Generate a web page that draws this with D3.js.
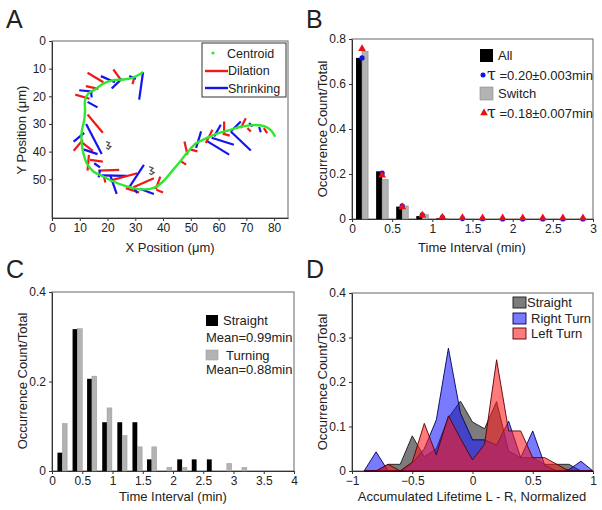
<!DOCTYPE html>
<html><head><meta charset="utf-8">
<script src="https://cdn.jsdelivr.net/npm/d3@7"></script>
<style>
body{margin:0;background:#fff}
svg{display:block}
text{font-family:"Liberation Sans",Arial,Helvetica,sans-serif;fill:#222}
</style>
</head><body>
<svg id="fig" width="602" height="510"></svg>
<script>
// ---------------- Panel A data ----------------
const centroidPath = [
  [32.8,11.2],[29.3,13.2],[25.7,13.9],[22.1,14.2],[18.5,15.4],[15.5,17.5],[13.1,19.0],[11.9,21.4],
  [11.9,25.0],[11.6,28.6],[10.7,32.8],[10.7,37.0],[11.3,40.6],[12.5,44.2],[14.9,47.2],[18.5,49.0],
  [22.1,50.8],[26.9,52.6],[31.6,53.6],[36.4,53.2],[40.0,50.8],[43.6,46.6],[46.6,43.0],[49.0,40.0],
  [51.9,37.0],[55.5,35.2],[59.7,33.4],[63.9,32.2],[68.1,31.0],[72.2,30.4],[76.4,30.8],[78.8,32.2],[80.4,34.6]
];
const segX1 = [32.8,27.8,29.5,22.1,21.5,12.8,17.6,12.2,9.8,14.0,8.4,12.8,12.8,12.3,7.8,7.8,10.4,11.3,13.3,13.7,15.2,16.7,16.8,17.9,19.2,20.9,20.9,27.8,26.6,29.3,30.7,31.6,37.4,37.6,46.5,47.7,50.0,53.7,57.8,56.0,58.4,57.5,62.0,61.5,64.4,64.4,69.8,70.4,71.0,74.6,76.3];
const segY1 = [11.2,12.7,13.7,10.3,17.2,11.5,12.7,16.3,17.8,18.0,19.4,22.0,26.6,30.0,36.4,39.7,36.4,39.2,41.2,43.0,44.2,46.9,49.3,48.6,51.2,50.5,48.4,52.9,53.2,52.9,55.0,53.4,53.6,53.8,43.5,36.3,39.3,32.7,32.1,36.3,34.5,35.0,29.1,33.5,32.7,32.7,27.9,31.5,29.7,31.1,31.5];
const segX2 = [31.4,30.2,29.0,24.7,25.1,18.5,22.7,16.7,14.7,14.3,13.5,16.4,18.3,17.9,11.6,11.1,14.7,16.4,12.8,18.3,17.3,24.2,17.3,26.9,18.7,30.7,23.3,33.1,31.4,36.7,29.5,36.7,39.0,40.0,48.3,48.8,52.4,51.9,55.4,63.8,60.8,65.5,62.0,64.0,71.6,68.0,68.0,71.6,72.2,75.2,77.5];
const segY2 = [21.2,13.7,15.6,13.9,13.7,14.9,14.9,17.3,18.3,20.4,20.9,24.0,33.2,40.9,33.2,35.8,39.7,40.9,46.9,43.6,45.7,46.6,46.6,48.8,48.8,47.8,55.3,44.8,54.8,49.6,52.9,55.3,49.0,54.8,44.7,41.1,39.9,38.7,36.9,41.1,30.3,37.5,33.3,34.2,39.6,29.1,31.5,32.7,30.9,33.0,33.3];
const segKind = ["S","S","D","D","S","D","S","D","S","S","D","S","D","S","S","D","D","S","D","D","S","D","S","S","D","D","S","S","D","D","S","S","D","D","D","D","D","S","D","S","S","S","D","D","S","S","D","D","S","S","D"];
const squiggle1 = [[19.5,36.4],[20.7,36.8],[20.0,37.8],[21.2,38.2],[20.3,39.1],[19.5,38.6]];
const squiggle2 = [[35.0,45.4],[36.4,46.0],[35.5,46.9],[36.8,47.6],[35.8,48.3],[35.0,47.8]];
const aXTicks = [0,10,20,30,40,50,60,70,80];
const aYTicks = [0,10,20,30,40,50];
const aLegend = ["Centroid","Dilation","Shrinking"];

// ---------------- Panel B data ----------------
const bBins   = [0.125,0.375,0.625,0.875,1.125,1.375,1.625,1.875,2.125,2.375,2.625,2.875];
const bAll    = [0.716,0.212,0.055,0.013,0.003,0,0,0,0,0,0,0];
const bSwitch = [0.745,0.175,0.058,0.019,0.002,0,0,0,0,0,0,0];
const bFitAll = [0.716,0.204,0.059,0.019,0.007,0.002,0.001,0,0,0,0,0];
const bFitSw  = [0.752,0.190,0.049,0.012,0.004,0.001,0,0,0,0,0,0];
const bXTicks = [0,0.5,1,1.5,2,2.5,3];
const bYTicks = [0,0.2,0.4,0.6,0.8];
const bLegend = ["All","=0.20\u00b10.003min","Switch","=0.18\u00b10.007min"];

// ---------------- Panel C data ----------------
const cBins     = [0.17,0.42,0.66,0.91,1.16,1.41,1.65,1.90,2.15,2.39,2.64,2.89,3.14];
const cStraight = [0.041,0.317,0.206,0.109,0.109,0.109,0.026,0,0.026,0.026,0.026,0,0];
const cTurning  = [0.106,0.318,0.212,0.141,0.079,0.054,0.054,0.008,0.008,0,0,0.017,0.008];
const cXTicks = [0,0.5,1,1.5,2,2.5,3,3.5,4];
const cYTicks = [0,0.2,0.4];
const cLegend = ["Straight","Mean=0.99min","Turning","Mean=0.88min"];

// ---------------- Panel D data ----------------
const dX        = [-0.9,-0.8,-0.7,-0.6,-0.5,-0.4,-0.3,-0.2,-0.1,0,0.1,0.2,0.3,0.4,0.5,0.6,0.7,0.8,0.9,1.0];
const dStraight = [0,0,0.015,0.015,0.079,0.032,0.05,0.12,0.157,0.11,0.095,0.156,0.045,0.03,0.03,0.015,0.015,0.015,0,0];
const dRight    = [0,0.043,0,0,0.017,0.05,0.115,0.276,0.13,0.07,0.07,0.058,0.112,0.03,0.09,0.013,0,0.003,0.022,0];
const dLeft     = [0,0,0.015,0,0.02,0.107,0.036,0.124,0.073,0.025,0.06,0.25,0.09,0.09,0.03,0.03,0.015,0,0,0];
const dXTicks = [-1,-0.5,0,0.5,1];
const dYTicks = [0,0.1,0.2,0.3,0.4];
const dLegend = ["Straight","Right Turn","Left Turn"];

// ---------------- drawing ----------------
const svg = d3.select("#fig");
const FS = 12;

function frame(x, y, xTicks, yTicks, xFmt, yFmt) {
  const g = svg.append("g");
  const [x0, x1] = x.range(), [yb, yt] = [Math.max(...y.range()), Math.min(...y.range())];
  g.append("rect").attr("x", x0).attr("y", yt).attr("width", x1 - x0).attr("height", yb - yt)
    .attr("fill", "none").attr("stroke", "#666").attr("stroke-width", 1);
  const ax = g.append("g").attr("transform", `translate(0,${yb})`)
    .call(d3.axisBottom(x).tickValues(xTicks).tickFormat(xFmt).tickSize(3).tickSizeOuter(0).tickPadding(2));
  const ay = g.append("g").attr("transform", `translate(${x0},0)`)
    .call(d3.axisLeft(y).tickValues(yTicks).tickFormat(yFmt).tickSize(3).tickSizeOuter(0).tickPadding(3));
  [ax, ay].forEach(a => {
    a.select(".domain").attr("stroke", "#333");
    a.selectAll(".tick line").attr("stroke", "#333");
    a.selectAll(".tick text").attr("font-size", FS).attr("fill", "#222")
      .attr("font-family", "'Liberation Sans',Arial,sans-serif");
  });
  return g;
}
function label(txt, x, y, opts = {}) {
  const t = svg.append("text").attr("x", x).attr("y", y).text(txt)
    .attr("font-size", opts.size || FS).attr("text-anchor", opts.anchor || "start");
  if (opts.rotate) t.attr("transform", `rotate(-90,${x},${y})`);
  return t;
}
const fmt = d3.format("~g");

// Panel letters
label("A", 6, 28, {size: 25});
label("B", 306, 28, {size: 25});
label("C", 6, 278, {size: 25});
label("D", 306, 278, {size: 25});

// ===== Panel A =====
{
  const x = d3.scaleLinear().domain([0, 85]).range([52, 288]);
  const y = d3.scaleLinear().domain([0, 64]).range([41, 218]);
  frame(x, y, aXTicks, aYTicks, fmt, fmt);
  const g = svg.append("g");
  const segs = segX1.map((v, i) => ({x1: v, y1: segY1[i], x2: segX2[i], y2: segY2[i], k: segKind[i]}));
  g.selectAll("line.seg").data(segs).join("line")
    .attr("x1", d => x(d.x1)).attr("y1", d => y(d.y1)).attr("x2", d => x(d.x2)).attr("y2", d => y(d.y2))
    .attr("stroke", d => d.k === "D" ? "#f01818" : "#1414f0").attr("stroke-width", 2.2).attr("stroke-linecap", "butt");
  const line = d3.line().x(d => x(d[0])).y(d => y(d[1])).curve(d3.curveCatmullRom);
  g.append("path").attr("d", line(centroidPath)).attr("fill", "none").attr("stroke", "#2ee82e").attr("stroke-width", 2.4);
  [squiggle1, squiggle2].forEach(s => g.append("path").attr("d", d3.line().x(d => x(d[0])).y(d => y(d[1]))(s))
    .attr("fill", "none").attr("stroke", "#555").attr("stroke-width", 1.3));
  // legend
  const lg = svg.append("g");
  lg.append("rect").attr("x", 202).attr("y", 43).attr("width", 84).attr("height", 54)
    .attr("fill", "#fff").attr("stroke", "#333").attr("stroke-width", 1);
  lg.append("circle").attr("cx", 213).attr("cy", 53).attr("r", 1.6).attr("fill", "#2ee82e");
  lg.append("line").attr("x1", 205).attr("x2", 228).attr("y1", 71).attr("y2", 71).attr("stroke", "#f01818").attr("stroke-width", 2.4);
  lg.append("line").attr("x1", 205).attr("x2", 228).attr("y1", 88).attr("y2", 88).attr("stroke", "#1414f0").attr("stroke-width", 2.4);
  [[227, 58], [228, 75], [228, 93]].forEach((p, i) => label(aLegend[i], p[0], p[1], {size: 12.5}));
  label("Y Position (\u03bcm)", 26, 130, {anchor: "middle", rotate: true, size: 13});
  label("X Position (\u03bcm)", 170, 252, {anchor: "middle", size: 13});
}

// ===== Panel B =====
{
  const x = d3.scaleLinear().domain([0, 3]).range([352, 593]);
  const y = d3.scaleLinear().domain([0, 0.8]).range([219, 39]);
  frame(x, y, bXTicks, bYTicks, fmt, fmt);
  const g = svg.append("g");
  const w = 0.075;
  g.selectAll("rect.all").data(bBins).join("rect")
    .attr("x", (d) => x(d - w)).attr("width", x(w) - x(0))
    .attr("y", (d, i) => y(bAll[i])).attr("height", (d, i) => y(0) - y(bAll[i])).attr("fill", "#000");
  g.selectAll("rect.sw").data(bBins).join("rect")
    .attr("x", d => x(d)).attr("width", x(w) - x(0))
    .attr("y", (d, i) => y(bSwitch[i])).attr("height", (d, i) => y(0) - y(bSwitch[i]))
    .attr("fill", "#b3b3b3").attr("stroke", "#8a8a8a").attr("stroke-width", 0.6);
  g.selectAll("circle.fa").data(bBins).join("circle")
    .attr("cx", d => x(d)).attr("cy", (d, i) => y(bFitAll[i])).attr("r", 2.6).attr("fill", "#1010ee");
  const tri = d3.symbol().type(d3.symbolTriangle).size(26);
  g.selectAll("path.fs").data(bBins).join("path")
    .attr("d", tri).attr("transform", (d, i) => `translate(${x(d)},${y(bFitSw[i]) - 1})`).attr("fill", "#ee1010");
  // legend
  svg.append("rect").attr("x", 480).attr("y", 49).attr("width", 13).attr("height", 13).attr("fill", "#000");
  label(bLegend[0], 498, 60, {size: 13});
  svg.append("circle").attr("cx", 483).attr("cy", 75).attr("r", 2.5).attr("fill", "#1010ee");
  const t1 = svg.append("text").attr("x", 487).attr("y", 80).attr("font-size", 13);
  t1.append("tspan").attr("font-size", 16).attr("font-family", "'DejaVu Serif',serif").text("\u03c4");
  t1.append("tspan").text(" " + bLegend[1]);
  svg.append("rect").attr("x", 480).attr("y", 87).attr("width", 13).attr("height", 13).attr("fill", "#b3b3b3").attr("stroke", "#8a8a8a").attr("stroke-width", 0.6);
  label(bLegend[2], 498, 98, {size: 13});
  svg.append("path").attr("d", tri).attr("transform", "translate(484,113)").attr("fill", "#ee1010");
  const t2 = svg.append("text").attr("x", 487).attr("y", 118).attr("font-size", 13);
  t2.append("tspan").attr("font-size", 16).attr("font-family", "'DejaVu Serif',serif").text("\u03c4");
  t2.append("tspan").text(" " + bLegend[3]);
  label("Occurrence Count/Total", 327, 129, {anchor: "middle", rotate: true, size: 13});
  label("Time Interval (min)", 472, 252, {anchor: "middle", size: 13});
}

// ===== Panel C =====
{
  const x = d3.scaleLinear().domain([0, 4]).range([52, 294]);
  const y = d3.scaleLinear().domain([0, 0.4]).range([471, 292]);
  frame(x, y, cXTicks, cYTicks, fmt, fmt);
  const g = svg.append("g");
  const w = 0.08;
  g.selectAll("rect.st").data(cBins).join("rect")
    .attr("x", d => x(d - w)).attr("width", x(w) - x(0))
    .attr("y", (d, i) => y(cStraight[i])).attr("height", (d, i) => y(0) - y(cStraight[i])).attr("fill", "#000");
  g.selectAll("rect.tu").data(cBins).join("rect")
    .attr("x", d => x(d)).attr("width", x(w) - x(0))
    .attr("y", (d, i) => y(cTurning[i])).attr("height", (d, i) => y(0) - y(cTurning[i]))
    .attr("fill", "#b3b3b3").attr("stroke", "#999").attr("stroke-width", 0.5);
  svg.append("rect").attr("x", 206).attr("y", 315).attr("width", 12).attr("height", 11).attr("fill", "#000");
  label(cLegend[0], 223, 325, {size: 13});
  label(cLegend[1], 206, 342, {size: 13});
  svg.append("rect").attr("x", 206).attr("y", 350).attr("width", 12).attr("height", 10).attr("fill", "#b3b3b3").attr("stroke", "#999").attr("stroke-width", 0.5);
  label(cLegend[2], 226, 360, {size: 13});
  label(cLegend[3], 206, 374, {size: 13});
  label("Occurrence Count/Total", 27, 381, {anchor: "middle", rotate: true, size: 13});
  label("Time Interval (min)", 173, 501, {anchor: "middle", size: 13});
}

// ===== Panel D =====
{
  const x = d3.scaleLinear().domain([-1, 1]).range([352, 593]);
  const y = d3.scaleLinear().domain([0, 0.4]).range([471, 293]);
  frame(x, y, dXTicks, dYTicks, fmt, fmt);
  const g = svg.append("g");
  const area = vals => d3.area().x((d, i) => x(dX[i])).y0(y(0)).y1((d, i) => y(vals[i]))(vals);
  const series = [
    {v: dStraight, fill: "#4a4a4a", op: 0.72, stroke: "#1a1a1a"},
    {v: dRight, fill: "#1a1aff", op: 0.58, stroke: "#000055"},
    {v: dLeft, fill: "#ff1a1a", op: 0.58, stroke: "#550000"}
  ];
  series.forEach(s => g.append("path").attr("d", area(s.v)).attr("fill", s.fill).attr("fill-opacity", s.op)
    .attr("stroke", s.stroke).attr("stroke-width", 0.9).attr("stroke-linejoin", "round"));
  const ly = [297, 313, 328];
  series.forEach((s, i) => {
    svg.append("rect").attr("x", 513).attr("y", ly[i]).attr("width", 13).attr("height", 11)
      .attr("fill", s.fill).attr("fill-opacity", s.op).attr("stroke", s.stroke).attr("stroke-width", 0.9);
  });
  label(dLegend[0], 527, 307, {size: 13});
  label(dLegend[1], 531, 323, {size: 13});
  label(dLegend[2], 531, 338, {size: 13});
  label("Occurrence Count/Total", 327, 382, {anchor: "middle", rotate: true, size: 13});
  label("Accumulated Lifetime L - R, Normalized", 472, 501, {anchor: "middle", size: 13});
}
</script>
</body></html>
